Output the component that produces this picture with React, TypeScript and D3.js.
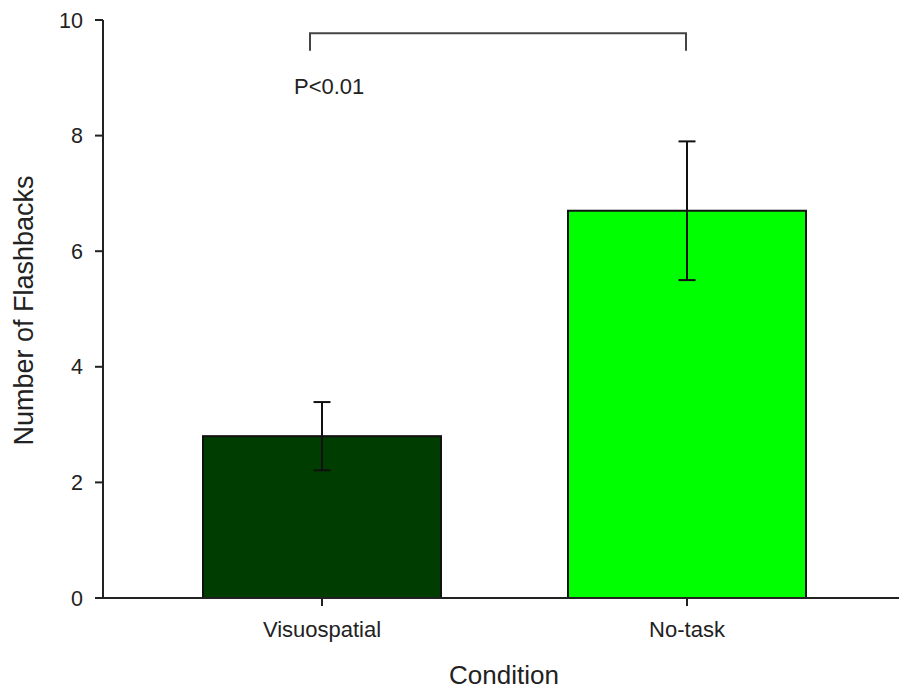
import React, { useEffect } from "react";
import * as d3 from "d3";

const categories = ["Visuospatial", "No-task"];
const means = [2.8, 6.7];
const errors = [0.59, 1.2];
const barColors = ["#003d00", "#00ff00"];
const yTicks = [0, 2, 4, 6, 8, 10];
const bracketLevel = 9.77;
const bracketTip = 9.47;
const pLabel = "P<0.01";
const pLabelLevel = 8.72;

const W = 899;
const H = 691;

export default function App() {
  useEffect(() => {
    document.body.style.margin = "0";
  }, []);

  const y = d3.scaleLinear().domain([0, 10]).range([598, 20]);
  const x = d3
    .scaleBand<string>()
    .domain(categories)
    .range([103, 906])
    .paddingInner(0.348)
    .paddingOuter(0.274);
  const bw = x.bandwidth();
  const cx = (c: string) => (x(c) as number) + bw / 2;
  const font = "'Liberation Sans', Arial, sans-serif";
  const axisColor = "#222";

  const leftX = cx(categories[0]) - 12;
  const rightX = cx(categories[1]) - 1;

  return (
    <svg width={W} height={H} style={{ display: "block", background: "#fff" }} fontFamily={font}>
      {/* bars */}
      {categories.map((c, i) => (
        <rect
          key={c}
          x={x(c)}
          y={y(means[i])}
          width={bw}
          height={y(0) - y(means[i])}
          fill={barColors[i]}
          stroke="#111"
          strokeWidth={2}
        />
      ))}
      {/* error bars */}
      {categories.map((c, i) => {
        const xc = cx(c);
        const top = y(means[i] + errors[i]);
        const bot = y(means[i] - errors[i]);
        return (
          <g key={c + "err"} stroke="#111" strokeWidth={2}>
            <line x1={xc} x2={xc} y1={top} y2={bot} />
            <line x1={xc - 8.5} x2={xc + 8.5} y1={top} y2={top} />
            <line x1={xc - 8.5} x2={xc + 8.5} y1={bot} y2={bot} />
          </g>
        );
      })}
      {/* y axis */}
      <line x1={103} x2={103} y1={y(10)} y2={y(0)} stroke={axisColor} strokeWidth={2} />
      {yTicks.map((t) => (
        <g key={t}>
          <line x1={95} x2={103} y1={y(t)} y2={y(t)} stroke={axisColor} strokeWidth={2} />
          <text x={83} y={y(t)} dy="0.35em" textAnchor="end" fontSize={21.5} fill={axisColor}>
            {t}
          </text>
        </g>
      ))}
      {/* x axis */}
      <line x1={95} x2={899} y1={y(0)} y2={y(0)} stroke={axisColor} strokeWidth={2} />
      {categories.map((c) => (
        <g key={c + "tick"}>
          <line x1={cx(c)} x2={cx(c)} y1={y(0)} y2={y(0) + 8} stroke={axisColor} strokeWidth={2} />
          <text x={cx(c)} y={637} textAnchor="middle" fontSize={22} fill={axisColor}>
            {c}
          </text>
        </g>
      ))}
      {/* axis titles */}
      <text x={504} y={684} textAnchor="middle" fontSize={26} fill={axisColor}>
        Condition
      </text>
      <text
        transform={`translate(33, ${310.5}) rotate(-90)`}
        textAnchor="middle"
        fontSize={27}
        fill={axisColor}
      >
        Number of Flashbacks
      </text>
      {/* significance bracket */}
      <path
        d={`M${leftX},${y(bracketTip)}V${y(bracketLevel)}H${rightX}V${y(bracketTip)}`}
        fill="none"
        stroke="#444"
        strokeWidth={2}
      />
      <text x={294} y={y(pLabelLevel)} fontSize={22} fill={axisColor}>
        {pLabel}
      </text>
    </svg>
  );
}
